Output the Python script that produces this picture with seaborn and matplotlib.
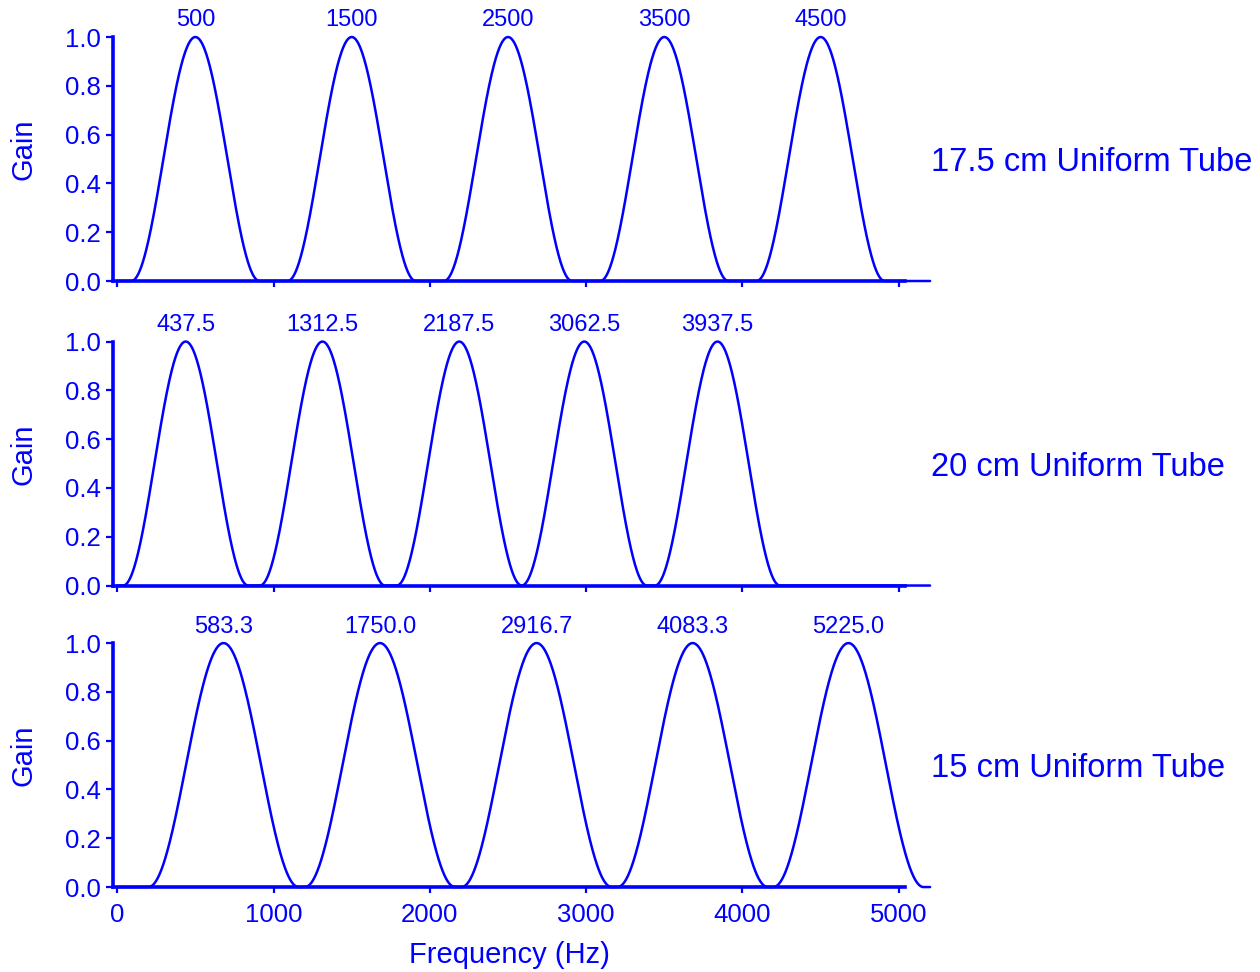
import numpy as np
import pandas as pd
import matplotlib
matplotlib.use("Agg")
import matplotlib.pyplot as plt
from matplotlib.ticker import FormatStrFormatter
import seaborn as sns

# ---- data -------------------------------------------------------------
tube_names = ["17.5 cm Uniform Tube", "20 cm Uniform Tube", "15 cm Uniform Tube"]

# formant values printed above each resonance peak
labels_175 = ["500", "1500", "2500", "3500", "4500"]
labels_20 = ["437.5", "1312.5", "2187.5", "3062.5", "3937.5"]
labels_15 = ["583.3", "1750.0", "2916.7", "4083.3", "5225.0"]

# centre frequency (Hz) of each drawn resonance peak
peaks_175 = [500, 1500, 2500, 3500, 4500]
peaks_20 = [438, 1313, 2188, 2988, 3840]
peaks_15 = [680, 1681, 2683, 3681, 4678]

# half-width (Hz) of the resonance window in each panel
half_widths = [410, 400, 480]

x_ticks = [0, 1000, 2000, 3000, 4000, 5000]
y_ticks = [0.0, 0.2, 0.4, 0.6, 0.8, 1.0]

freq_max = 5200
# ----------------------------------------------------------------------

BLUE = "#0000FF"

sns.set_theme(style="ticks")
plt.rcParams["font.family"] = ["Liberation Sans", "DejaVu Sans"]


def response(freqs, centres, w):
    """Raised-cosine resonance windows, one per centre frequency."""
    g = np.zeros_like(freqs)
    for c in centres:
        d = np.abs(freqs - c)
        bump = np.where(d < w, 0.5 * (1 + np.cos(np.pi * d / w)), 0.0)
        g = np.maximum(g, bump)
    return g


freqs = np.linspace(0, freq_max, 2601)

fig = plt.figure(figsize=(12.6, 9.72), dpi=100)
fig.patch.set_facecolor("white")

left, width, height = 0.0897, 0.6286, 0.2510
bottoms = [0.7109, 0.3976, 0.0874]

panels = [
    (peaks_175, labels_175),
    (peaks_20, labels_20),
    (peaks_15, labels_15),
]

for i, ((peaks, labels), name, w, b) in enumerate(
    zip(panels, tube_names, half_widths, bottoms)
):
    ax = fig.add_axes([left, b, width, height])
    df = pd.DataFrame({"Frequency": freqs, "Gain": response(freqs, peaks, w)})
    sns.lineplot(data=df, x="Frequency", y="Gain", ax=ax, color=BLUE,
                 linewidth=1.8, clip_on=False)

    ax.set_xlim(-27, 5040)
    ax.set_ylim(0, 1)
    ax.set_xticks(x_ticks)
    ax.set_yticks(y_ticks)
    ax.yaxis.set_major_formatter(FormatStrFormatter("%.1f"))

    for side in ("top", "right"):
        ax.spines[side].set_visible(False)
    for side in ("left", "bottom"):
        ax.spines[side].set_color(BLUE)
        ax.spines[side].set_linewidth(2.6)

    ax.tick_params(axis="both", colors=BLUE, labelcolor=BLUE,
                   labelsize=18.5, width=1.6, direction="out")
    ax.tick_params(axis="y", length=5, pad=4)
    ax.tick_params(axis="x", length=4.5, pad=7)

    ax.set_ylabel("Gain", color=BLUE, fontsize=21)
    ax.yaxis.set_label_coords(-0.095, 0.54)

    if i < 2:
        ax.set_xticklabels([])
        ax.set_xlabel("")
    else:
        ax.set_xlabel("Frequency (Hz)", color=BLUE, fontsize=21, labelpad=10)

    for pk, lab in zip(peaks, labels):
        ax.annotate(lab, xy=(pk, 1.0), xytext=(0, 4), textcoords="offset points",
                    ha="center", va="bottom", color=BLUE, fontsize=17,
                    annotation_clip=False)

    ax.text(1.0328, 0.484, name, transform=ax.transAxes, ha="left",
            va="center", color=BLUE, fontsize=23.5)

fig.savefig("out.png", dpi=100, facecolor="white")
